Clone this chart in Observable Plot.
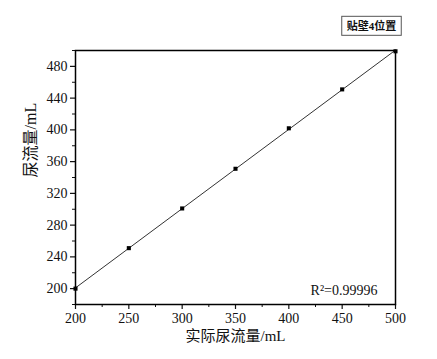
<!DOCTYPE html>
<html><head><meta charset="utf-8">
<script src="https://cdn.jsdelivr.net/npm/d3@7"></script>
<script src="https://cdn.jsdelivr.net/npm/@observablehq/plot@0.6"></script>
<style>body{margin:0;background:#fff;}</style>
</head><body><div id="chart"></div>
<script>
const actual = [200, 250, 300, 350, 400, 450, 500];
const measured = [200, 251, 301, 351, 402, 451, 499];
const xTicks = [200, 250, 300, 350, 400, 450, 500];
const yTicks = [200, 240, 280, 320, 360, 400, 440, 480];
const xMinor = [225, 275, 325, 375, 425, 475];
const yMinor = [180, 220, 260, 300, 340, 380, 420, 460, 500];
const data = actual.map((a, i) => ({a, m: measured[i]}));
const serif = "'Liberation Serif', 'DejaVu Serif', serif";
const cjk = "'Liberation Serif', 'Noto Sans CJK SC', serif";

const plot = Plot.plot({
  width: 437, height: 359,
  marginLeft: 75, marginRight: 42, marginTop: 50, marginBottom: 55,
  style: {fontFamily: serif, fontSize: "14px", color: "#111", background: "#fff"},
  x: {domain: [200, 500]},
  y: {domain: [180, 500]},
  marks: [
    Plot.axisX({ticks: xTicks, tickSize: 5, tickPadding: 4, label: null, fontSize: 14, strokeWidth: 1.2}),
    Plot.axisX({ticks: xMinor, tickSize: 3, text: null, label: null}),
    Plot.axisY({ticks: yTicks, tickSize: 5, tickPadding: 3, label: null, fontSize: 14, strokeWidth: 1.2}),
    Plot.axisY({ticks: yMinor, tickSize: 3, text: null, label: null}),
    Plot.frame({stroke: "#000", strokeWidth: 1.5}),
    Plot.linearRegressionY(data, {x: "a", y: "m", ci: 0, stroke: "#333", strokeWidth: 1}),
    Plot.dot(data, {x: "a", y: "m", symbol: "square", r: 2.3, fill: "#000", stroke: "none"}),
    Plot.text(["实际尿流量/mL"], {frameAnchor: "bottom", dy: 36, fontFamily: cjk, fontSize: 15, fill: "#111"}),
    Plot.text(["尿流量/mL"], {frameAnchor: "left", dx: -45, rotate: -90, fontFamily: cjk, fontSize: 16, fill: "#111"}),
    Plot.text(["R²=0.99996"], {frameAnchor: "bottom-right", dx: -18, dy: -10, textAnchor: "end", fontFamily: serif, fontSize: 14, fill: "#111"}),
    Plot.text(["贴壁4位置"], {frameAnchor: "top-right", dx: -24, dy: -28, textAnchor: "middle", fontFamily: cjk, fontSize: 11, fontWeight: "bold", fill: "#111", className: "boxlabel"})
  ]
});
document.getElementById("chart").appendChild(plot);
// draw a box around the top-right label
const t = plot.querySelector(".boxlabel text");
if (t) {
  const b = t.getBBox();
  const ns = "http://www.w3.org/2000/svg";
  const r = document.createElementNS(ns, "rect");
  r.setAttribute("x", b.x - 5); r.setAttribute("y", b.y - 3);
  r.setAttribute("width", b.width + 10); r.setAttribute("height", b.height + 6);
  r.setAttribute("fill", "none"); r.setAttribute("stroke", "#555"); r.setAttribute("stroke-width", 1);
  const tr = t.getAttribute("transform");
  if (tr) r.setAttribute("transform", tr);
  t.parentNode.insertBefore(r, t);
}
</script></body></html>
